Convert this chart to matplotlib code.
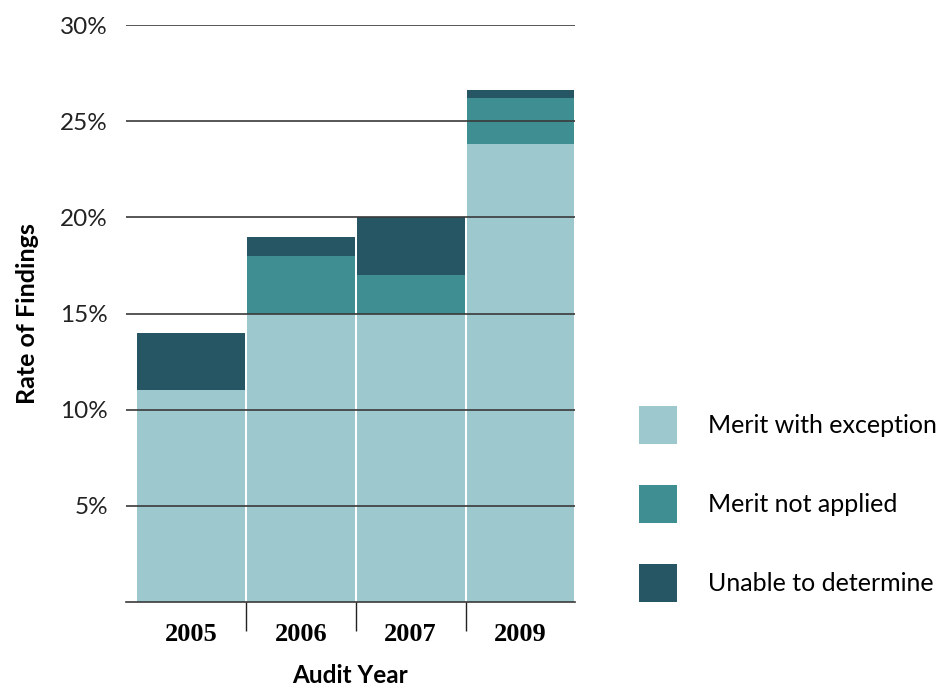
import matplotlib.pyplot as plt
import numpy as np

# данные с картинки, в процентах
years = ["2005", "2006", "2007", "2009"]
merit_exception = [11.0, 15.0, 15.0, 23.8]
merit_not_applied = [0.0, 3.0, 2.0, 2.4]
unable_determine = [3.0, 1.0, 3.0, 0.4]
series_names = ["Merit with exception", "Merit not applied", "Unable to determine"]
colors = ["#9dc8cd", "#3f8e91", "#265563"]
yticks = [5, 10, 15, 20, 25, 30]

plt.rcParams['font.family'] = ['Lato', 'DejaVu Sans']

fig = plt.figure(figsize=(9.39, 6.88), dpi=100)
ax = fig.add_axes([126 / 939, 1 - 602 / 688, 449 / 939, 577 / 688])

x = np.arange(len(years))
bottom = np.zeros(len(years))
handles = []
for vals, name, c in zip([merit_exception, merit_not_applied, unable_determine], series_names, colors):
    b = ax.bar(x, vals, width=0.98, bottom=bottom, color=c, label=name, zorder=1)
    handles.append(b)
    bottom += np.array(vals)

ax.set_xlim(-0.59, 3.495)
ax.set_ylim(0, 30)

ax.set_yticks(yticks)
ax.set_yticklabels([f"{t}%" for t in yticks])
ax.yaxis.grid(True, color="#3a3a3a", linewidth=1.2)
ax.set_axisbelow(False)
ax.tick_params(axis="y", length=0, pad=13, labelsize=17.5, labelcolor="#222222")

ax.set_xticks(x)
ax.set_xticklabels(years, fontfamily="Liberation Serif", fontweight="bold", fontsize=19)
ax.set_xticks([0.5, 1.5, 2.5], minor=True)
ax.tick_params(axis="x", which="major", length=0, pad=15)
ax.tick_params(axis="x", which="minor", length=21, width=1, color="#222222")

for s in ["top", "right", "left"]:
    ax.spines[s].set_visible(False)
ax.spines["bottom"].set_color("#3a3a3a")
ax.spines["bottom"].set_linewidth(1.2)

ax.set_ylabel("Rate of Findings", fontsize=18, fontweight="bold", labelpad=15)
ax.set_xlabel("Audit Year", fontsize=17.5, fontweight="bold", labelpad=13)

fs = 18
ax.legend(handles=handles, loc="upper left",
          bbox_to_anchor=(639 / 939, 1 - 406 / 688), bbox_transform=fig.transFigure,
          frameon=False, fontsize=fs, borderpad=0, borderaxespad=0,
          handlelength=1.52, handleheight=1.94, labelspacing=1.66, handletextpad=1.24)

fig.savefig("out.png", dpi=100)
